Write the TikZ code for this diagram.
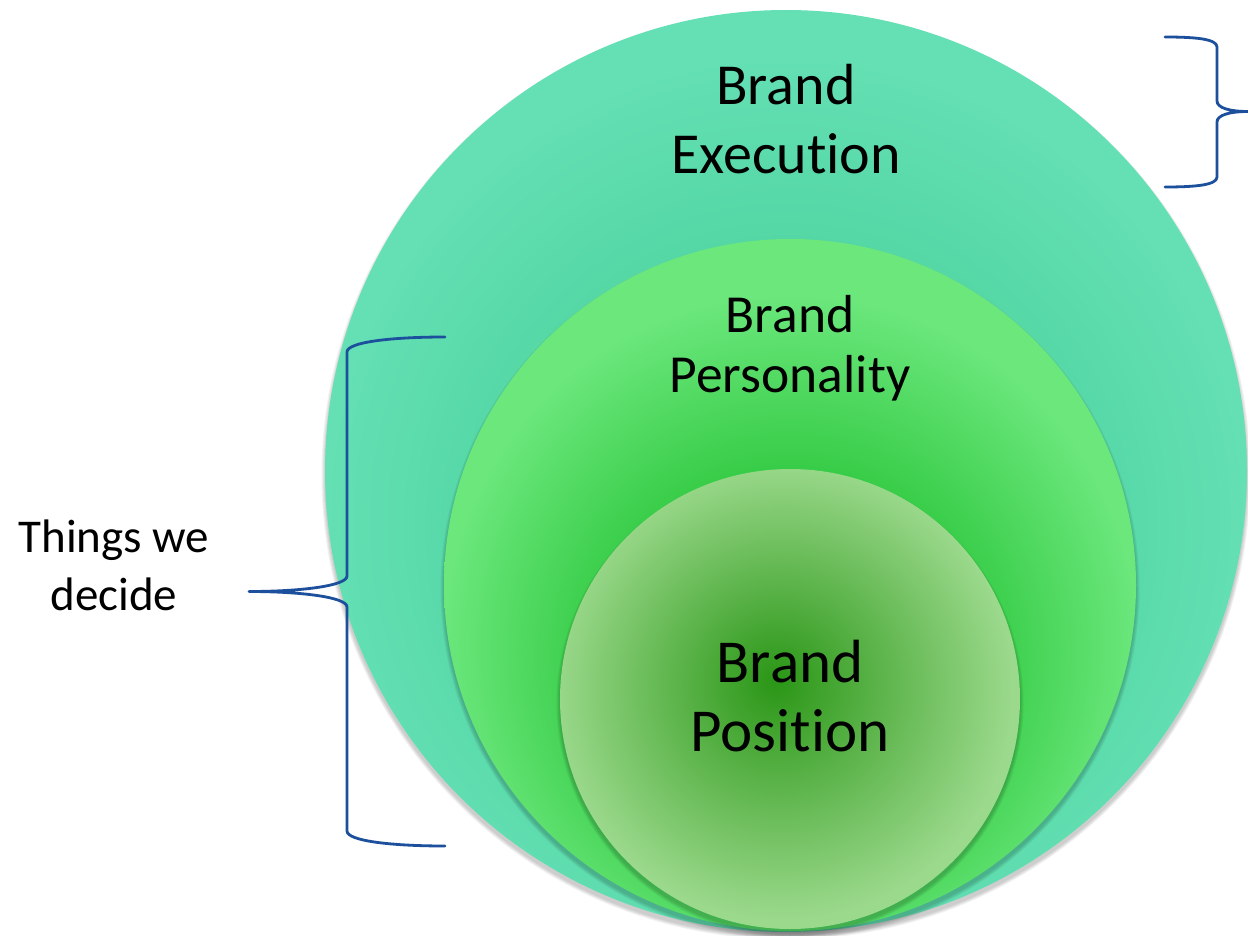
\documentclass[tikz,border=0pt]{standalone}
\usepackage{fontspec}
\setmainfont{Carlito}[Ligatures=NoCommon]
\usetikzlibrary{calc}
\definecolor{bracecol}{HTML}{1C4F9C}
\definecolor{outC}{HTML}{38C68B}
\definecolor{outE}{HTML}{64E0B4}
\definecolor{midC}{HTML}{1CB52A}
\definecolor{midM}{HTML}{2DC73D}
\definecolor{midE}{HTML}{6BE77C}
\definecolor{inC}{HTML}{2A9616}
\definecolor{inE}{HTML}{9BD98C}
\pgfdeclareradialshading{outershade}{\pgfpoint{0bp}{-5bp}}{color(0bp)=(outC);color(25bp)=(outE);color(50bp)=(outE)}
\pgfdeclareradialshading{middleshade}{\pgfpoint{0bp}{-8bp}}{color(0bp)=(midC);color(12bp)=(midM);color(25bp)=(midE);color(50bp)=(midE)}
\pgfdeclareradialshading{innershade}{\pgfpoint{-1.6bp}{2bp}}{color(0bp)=(inC);color(25bp)=(inE);color(50bp)=(inE)}
\tikzset{
  bracestyle/.style={draw=bracecol, line width=2.8pt, line cap=round, line join=round},
  shadowc/.style={fill=black, fill opacity=0.05, draw=none},
  lbl/.style={anchor=base, inner sep=0pt, text=black},
}
\begin{document}
\begin{tikzpicture}[x=1pt,y=-1pt]
\useasboundingbox[fill=white] (0,0) rectangle (1248,936);
% outer circle
\foreach \d in {1,3,5,7}{\fill[shadowc] (786,{471+4}) circle[radius={461+\d*0.5}];}
\shade[shading=outershade] (786,471) circle[radius=461];
% middle circle
\foreach \d in {1,3,5,7}{\fill[shadowc] (790,{585+4}) circle[radius={346+\d*0.5}];}
\shade[shading=middleshade] (790,585) circle[radius=346];
% inner circle
\foreach \d in {1,3,5,7}{\fill[shadowc] (790,{699+4}) circle[radius={230+\d*0.5}];}
\shade[shading=innershade] (790,699) circle[radius=230];
% labels
\node[lbl, font=\fontsize{58}{69}\selectfont] (ex1) at (786,105) {Brand};
\node[lbl, font=\fontsize{58}{69}\selectfont] (ex2) at (786,174) {Execut\kern0pt ion};
\node[lbl, font=\fontsize{53.5}{60}\selectfont] (pe1) at (790,332) {Brand};
\node[lbl, font=\fontsize{53.5}{60}\selectfont] (pe2) at (790,392) {Personality};
\node[lbl, font=\fontsize{61}{69}\selectfont] (po1) at (790,682) {Brand};
\node[lbl, font=\fontsize{61}{69}\selectfont] (po2) at (790,751) {Posit\kern0pt ion};
\node[lbl, font=\fontsize{47}{58}\selectfont] (td1) at (114,552) {Things we};
\node[lbl, font=\fontsize{47}{58}\selectfont] (td2) at (114,610) {decide};
% right brace
\coordinate (rtip) at (1248,111.5);
\draw[bracestyle] (1165,37) .. controls (1196,37) and (1217,39) .. (1217,47) -- (1217,101)
  .. controls (1217,108) and (1230,111.5) .. (rtip)
  .. controls (1230,111.5) and (1217,115) .. (1217,122) -- (1217,177)
  .. controls (1217,185) and (1196,187) .. (1165,187);
% left brace
\coordinate (ltip) at (249,591.5);
\draw[bracestyle] (445,337) .. controls (392,337) and (347,342) .. (347,352) -- (347,576)
  .. controls (347,586) and (300,591.5) .. (ltip)
  .. controls (300,591.5) and (347,597) .. (347,607) -- (347,831)
  .. controls (347,841) and (392,846) .. (445,846);
\end{tikzpicture}
\end{document}
